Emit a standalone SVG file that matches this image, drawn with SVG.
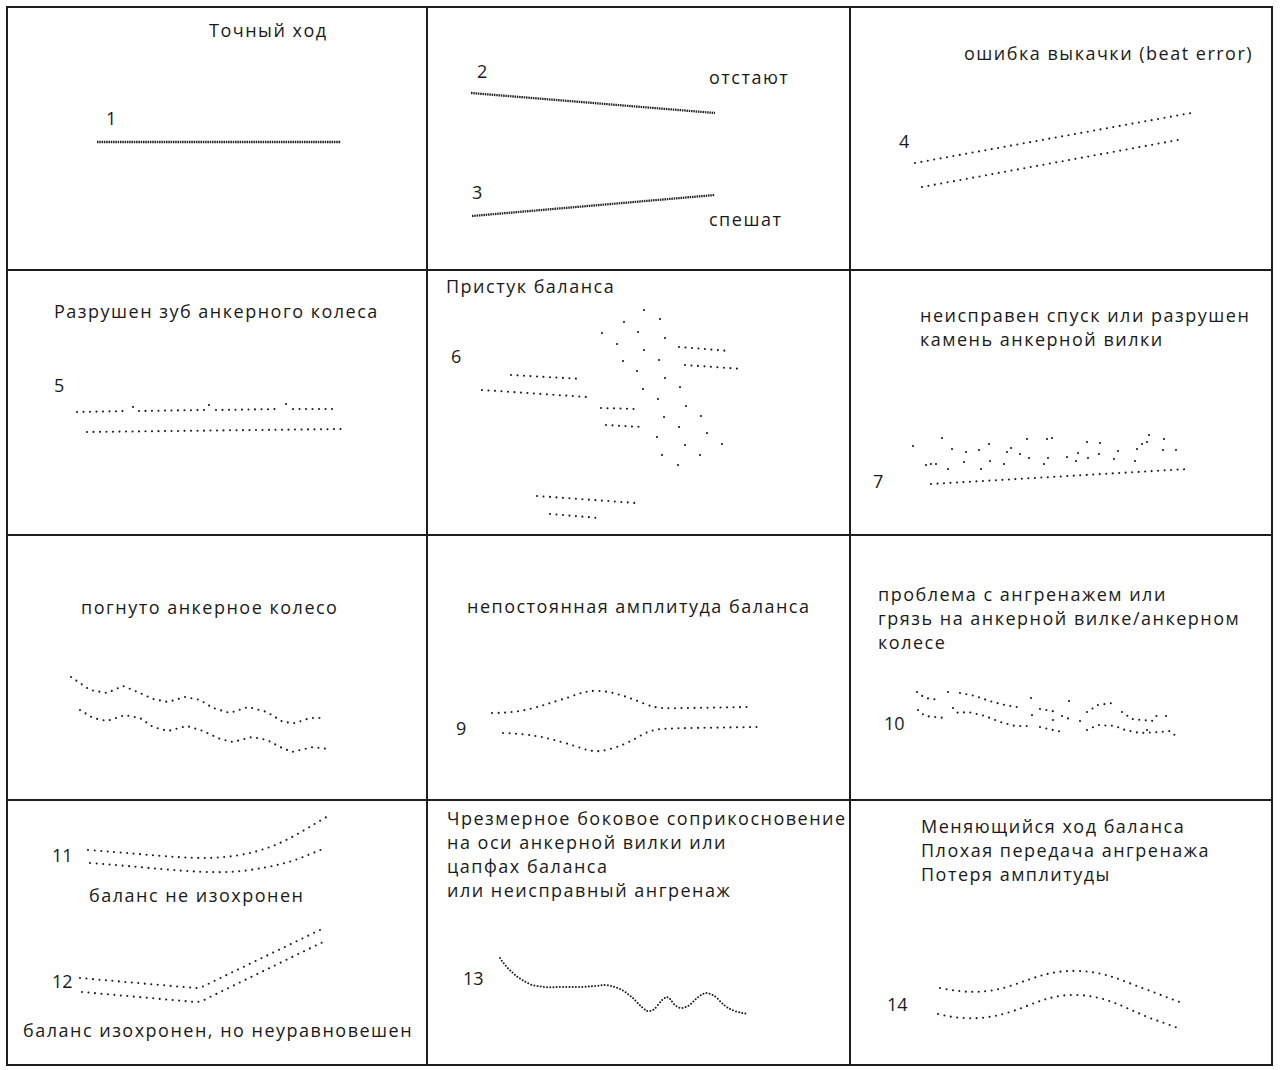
<svg xmlns="http://www.w3.org/2000/svg" width="1280" height="1070" viewBox="0 0 1280 1070">
<style>
.grid{fill:none;stroke:#1e1e1e;stroke-width:2}
.t{font-family:"Open Sans","Noto Sans",sans-serif;font-size:18px;letter-spacing:1.5px;fill:#1a1a1a}
.n{font-family:"Open Sans","Noto Sans",sans-serif;font-size:18px;fill:#1a1a1a}
.d{fill:none;stroke:#1a1a1a;stroke-width:2.1;stroke-linecap:round;stroke-dasharray:0 6.5;stroke-linejoin:round}
.dd{fill:none;stroke:#1a1a1a;stroke-width:2;stroke-linecap:round;stroke-dasharray:0 3.2}
.solid{fill:none;stroke:#222;stroke-width:2.3;stroke-dasharray:1.5 0.8}
.p{fill:#1a1a1a}
</style>
<rect width="1280" height="1070" fill="#ffffff"/>
<g id="grid">
<rect class="grid" x="7" y="7" width="1265" height="1058"/>
<line class="grid" x1="427" y1="7" x2="427" y2="1065"/>
<line class="grid" x1="850" y1="7" x2="850" y2="1065"/>
<line class="grid" x1="7" y1="270" x2="1272" y2="270"/>
<line class="grid" x1="7" y1="535" x2="1272" y2="535"/>
<line class="grid" x1="7" y1="800" x2="1272" y2="800"/>
</g>
<g id="cell1">
<text class="t" x="209" y="37">Точный ход</text>
<text class="n" x="106" y="125">1</text>
<line class="solid" x1="97" y1="142" x2="341" y2="142"/>
</g>
<g id="cell2">
<text class="n" x="477" y="78">2</text>
<text class="t" x="709" y="84">отстают</text>
<line class="solid" x1="471" y1="93" x2="715" y2="113"/>
<text class="n" x="472" y="199">3</text>
<text class="t" x="709" y="226">спешат</text>
<line class="solid" x1="472" y1="216" x2="715" y2="195"/>
</g>
<g id="cell4">
<text class="t" x="964" y="60">ошибка выкачки (beat error)</text>
<text class="n" x="899" y="148">4</text>
<line class="d" x1="915" y1="163" x2="1191" y2="113"/>
<line class="d" x1="922" y1="187" x2="1178" y2="140"/>
</g>
<g id="cell5">
<text class="t" x="54" y="318">Разрушен зуб анкерного колеса</text>
<text class="n" x="54" y="392">5</text>
<line class="d" x1="77" y1="412" x2="128" y2="411"/>
<circle class="p" cx="133" cy="407" r="1.1"/>
<line class="d" x1="139" y1="411" x2="204" y2="410"/>
<circle class="p" cx="209" cy="405" r="1.1"/>
<line class="d" x1="216" y1="410" x2="280" y2="409"/>
<circle class="p" cx="286" cy="404" r="1.1"/>
<line class="d" x1="293" y1="409" x2="333" y2="409"/>
<line class="d" x1="87" y1="432" x2="343" y2="429"/>
</g>
<g id="cell6">
<text class="t" x="446" y="293">Пристук баланса</text>
<text class="n" x="451" y="363">6</text>
<line class="d" x1="511" y1="375" x2="582" y2="379"/>
<line class="d" x1="482" y1="390" x2="587" y2="397"/>
<line class="d" x1="601" y1="408" x2="636" y2="409"/>
<line class="d" x1="606" y1="425" x2="642" y2="427"/>
<line class="d" x1="679" y1="347" x2="729" y2="351"/>
<line class="d" x1="685" y1="365" x2="743" y2="369"/>
<line class="d" x1="537" y1="496" x2="636" y2="503"/>
<line class="d" x1="550" y1="514" x2="599" y2="518"/>
<g class="p">
<circle cx="644" cy="310" r="1.1"/><circle cx="660" cy="319" r="1.1"/><circle cx="624" cy="322" r="1.1"/>
<circle cx="602" cy="333" r="1.1"/><circle cx="638" cy="332" r="1.1"/><circle cx="665" cy="338" r="1.1"/>
<circle cx="617" cy="344" r="1.1"/><circle cx="644" cy="350" r="1.1"/><circle cx="623" cy="361" r="1.1"/>
<circle cx="659" cy="360" r="1.1"/><circle cx="637" cy="371" r="1.1"/><circle cx="665" cy="378" r="1.1"/>
<circle cx="643" cy="389" r="1.1"/><circle cx="680" cy="387" r="1.1"/><circle cx="658" cy="399" r="1.1"/>
<circle cx="686" cy="406" r="1.1"/><circle cx="664" cy="417" r="1.1"/><circle cx="701" cy="416" r="1.1"/>
<circle cx="679" cy="427" r="1.1"/><circle cx="657" cy="437" r="1.1"/><circle cx="707" cy="433" r="1.1"/>
<circle cx="685" cy="445" r="1.1"/><circle cx="722" cy="444" r="1.1"/><circle cx="662" cy="455" r="1.1"/>
<circle cx="700" cy="455" r="1.1"/><circle cx="678" cy="465" r="1.1"/>
</g>
</g>
<g id="cell7">
<text class="t" x="920" y="322">неисправен спуск или разрушен</text>
<text class="t" x="920" y="346">камень анкерной вилки</text>
<text class="n" x="873" y="488">7</text>
<line class="d" x1="931" y1="484" x2="1188" y2="469"/>
<g class="p">
<circle cx="913" cy="446" r="1.1"/><circle cx="942" cy="438" r="1.1"/><circle cx="952" cy="449" r="1.1"/>
<circle cx="926" cy="465" r="1.1"/><circle cx="931" cy="464" r="1.1"/><circle cx="936" cy="464" r="1.1"/>
<circle cx="948" cy="469" r="1.1"/><circle cx="966" cy="452" r="1.1"/><circle cx="964" cy="462" r="1.1"/>
<circle cx="979" cy="450" r="1.1"/><circle cx="989" cy="444" r="1.1"/><circle cx="990" cy="461" r="1.1"/>
<circle cx="981" cy="469" r="1.1"/><circle cx="1004" cy="464" r="1.1"/><circle cx="1007" cy="452" r="1.1"/>
<circle cx="1011" cy="448" r="1.1"/><circle cx="1020" cy="454" r="1.1"/><circle cx="1027" cy="439" r="1.1"/>
<circle cx="1029" cy="458" r="1.1"/><circle cx="1044" cy="464" r="1.1"/><circle cx="1047" cy="439" r="1.1"/>
<circle cx="1052" cy="438" r="1.1"/><circle cx="1048" cy="458" r="1.1"/><circle cx="1067" cy="457" r="1.1"/>
<circle cx="1078" cy="453" r="1.1"/><circle cx="1076" cy="461" r="1.1"/><circle cx="1087" cy="442" r="1.1"/>
<circle cx="1088" cy="458" r="1.1"/><circle cx="1100" cy="443" r="1.1"/><circle cx="1099" cy="454" r="1.1"/>
<circle cx="1118" cy="451" r="1.1"/><circle cx="1114" cy="459" r="1.1"/><circle cx="1135" cy="461" r="1.1"/>
<circle cx="1137" cy="449" r="1.1"/><circle cx="1142" cy="444" r="1.1"/><circle cx="1147" cy="442" r="1.1"/>
<circle cx="1149" cy="435" r="1.1"/><circle cx="1164" cy="439" r="1.1"/><circle cx="1163" cy="450" r="1.1"/>
<circle cx="1176" cy="450" r="1.1"/>
</g>
</g>
<g id="cell8">
<text class="t" x="81" y="614">погнуто анкерное колесо</text>
<polyline class="d" points="71,677 90,690 107,693 123,686 140,693 153,699 168,702 185,697 200,700 213,708 230,713 248,707 267,712 283,722 295,723 310,718 320,718"/>
<polyline class="d" points="80,710 93,718 107,721 125,715 140,718 153,727 168,731 187,726 203,731 220,739 233,742 252,737 267,740 280,747 292,752 313,747 328,749"/>
</g>
<g id="cell9">
<text class="t" x="467" y="613">непостоянная амплитуда баланса</text>
<text class="n" x="456" y="735">9</text>
<path class="d" d="M492,713 C525,713 540,706 560,700 S585,690 600,691 S630,698 645,704 S670,708 690,708 L748,707"/>
<path class="d" d="M503,733 C530,734 545,737 565,743 S590,752 600,751 S625,745 640,736 S665,729 690,728 L758,727"/>
</g>
<g id="cell10">
<text class="t" x="878" y="601">проблема с ангренажем или</text>
<text class="t" x="878" y="625">грязь на анкерной вилке/анкерном</text>
<text class="t" x="878" y="649">колесе</text>
<text class="n" x="884" y="730">10</text>
<polyline class="d" points="917,692 925,698 940,700"/>
<polyline class="d" points="960,693 975,696 993,702 1005,705 1022,708"/>
<polyline class="d" points="1040,709 1058,712"/>
<polyline class="d" points="1062,716 1072,720"/>
<polyline class="d" points="1087,712 1098,705 1113,703"/>
<polyline class="d" points="1122,712 1132,719 1152,721 1160,712"/>
<polyline class="d" points="918,710 925,716 945,718"/>
<polyline class="d" points="953,708 958,713 968,712 985,716 1000,722 1015,726 1027,726"/>
<polyline class="d" points="1040,727 1062,732"/>
<polyline class="d" points="1087,730 1098,725 1115,726 1125,730 1140,733 1160,732 1170,731 1177,737"/>
<g class="p">
<circle cx="948" cy="692" r="1.1"/><circle cx="1031" cy="698" r="1.1"/><circle cx="1069" cy="701" r="1.1"/>
<circle cx="1166" cy="716" r="1.1"/><circle cx="1032" cy="715" r="1.1"/><circle cx="1053" cy="720" r="1.1"/>
<circle cx="1080" cy="721" r="1.1"/><circle cx="1147" cy="730" r="1.1"/>
</g>
</g>
<g id="cell11">
<text class="n" x="52" y="862">11</text>
<path class="d" d="M88,850 C160,855 200,862 240,855 S300,832 330,815"/>
<path class="d" d="M90,863 C160,868 210,876 250,870 S300,858 323,849"/>
<text class="t" x="89" y="902">баланс не изохронен</text>
<text class="n" x="52" y="988">12</text>
<path class="d" d="M80,978 L195,988 Q202,988 210,983 L320,930"/>
<path class="d" d="M82,992 L195,1002 Q202,1002 210,997 L323,942"/>
<text class="t" x="23" y="1037">баланс изохронен, но неуравновешен</text>
</g>
<g id="cell13">
<text class="t" x="447" y="825">Чрезмерное боковое соприкосновение</text>
<text class="t" x="447" y="849">на оси анкерной вилки или</text>
<text class="t" x="447" y="873">цапфах баланса</text>
<text class="t" x="447" y="897">или неисправный ангренаж</text>
<text class="n" x="463" y="985">13</text>
<path class="dd" d="M500,958 Q505,966 512,972 Q520,980 532,985 Q545,988 558,987 L582,987 Q595,986 605,985 Q615,986 622,990 Q630,995 635,1000 Q642,1008 647,1011 Q653,1012 658,1005 Q663,998 667,997 Q670,998 673,1003 Q677,1008 682,1008 Q688,1007 692,1003 Q698,996 705,993 Q712,993 718,999 Q725,1007 732,1010 Q740,1013 748,1014"/>
</g>
<g id="cell14">
<text class="t" x="921" y="833">Меняющийся ход баланса</text>
<text class="t" x="921" y="857">Плохая передача ангренажа</text>
<text class="t" x="921" y="881">Потеря амплитуды</text>
<text class="n" x="887" y="1011">14</text>
<path class="d" d="M940,988 C965,993 985,994 1010,986 S1050,970 1078,971 S1120,980 1145,989 L1182,1003"/>
<path class="d" d="M938,1014 C962,1020 985,1020 1010,1012 S1050,994 1078,995 S1125,1008 1150,1018 L1178,1028"/>
</g>
</svg>
